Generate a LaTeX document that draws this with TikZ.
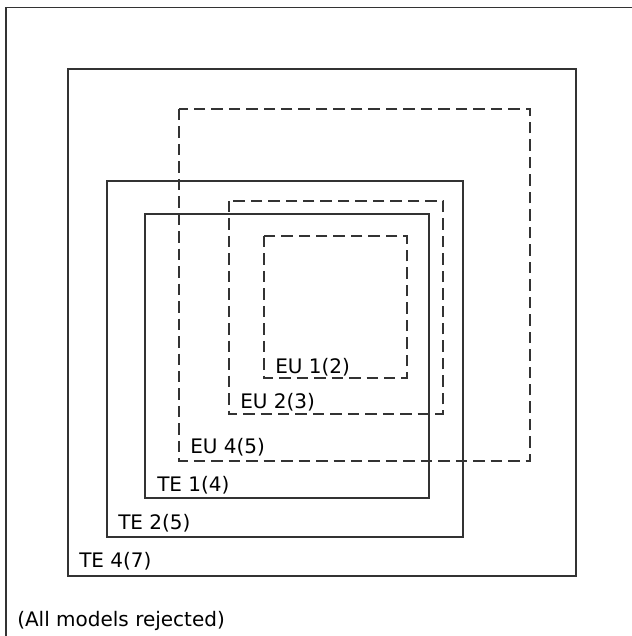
\documentclass[tikz,border=0pt]{standalone}
\usepackage{fontspec}
\setmainfont{DejaVu Sans}
\definecolor{pLine}{gray}{0.2}
\tikzset{
    setbox/.style={draw=pLine, line width=0.8pt},
    eubox/.style={setbox, dash pattern=on 8.6pt off 4.5pt},
    lbl/.style={anchor=base west, inner sep=0pt, font=\fontsize{15}{18}\selectfont}
}

\begin{document}
\begin{tikzpicture}[x=0.75pt,y=-0.75pt]
\useasboundingbox (0,0) rectangle (632,636);
\clip (0,0) rectangle (632,636);
% outer frame (runs off the page)
\draw[draw=black!80, line width=1pt] (6,7.5) rectangle (660,660);
% TE sets
\draw[setbox] ( 68, 69) rectangle (576,576);
\draw[setbox] (107,181) rectangle (463,537);
\draw[setbox] (145,214) rectangle (429,498);
% EU sets
\draw[eubox] (179,109) rectangle (530,461);
\draw[eubox] (229,201) rectangle (443,414);
\draw[eubox] (264,236) rectangle (407,378);
% labels
\node[lbl] (euone)   at (275,373) {EU 1(2)};
\node[lbl] (eutwo)   at (240,408) {EU 2(3)};
\node[lbl] (eufour)  at (190,453) {EU 4(5)};
\node[lbl] (teone)   at (157,491.5) {TE 1(4)};
\node[lbl] (tetwo)   at (118,529) {TE 2(5)};
\node[lbl] (tefour)  at ( 79,567) {TE 4(7)};
\node[lbl] (rejected) at (17,626.5) {(All models rejected)};
\end{tikzpicture}
\end{document}
